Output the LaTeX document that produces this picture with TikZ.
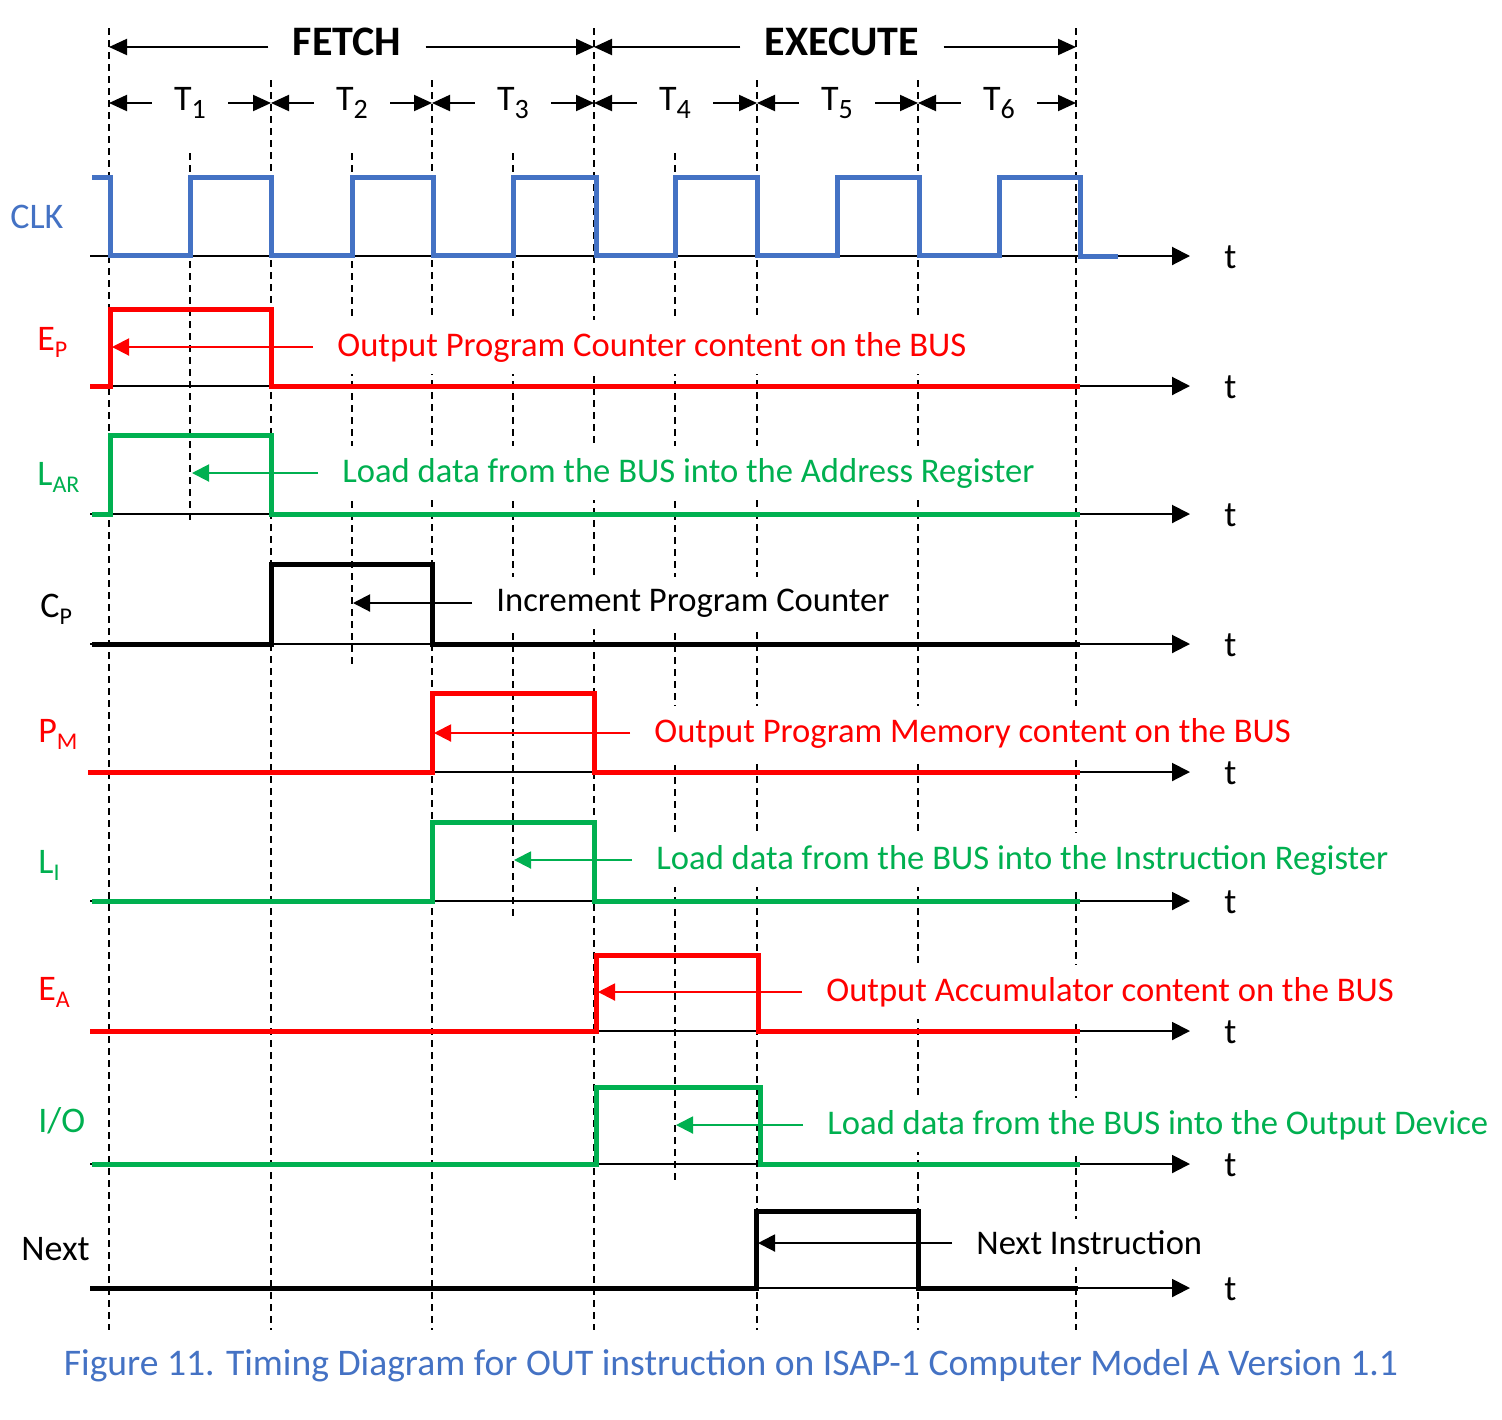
\documentclass[tikz,border=0pt]{standalone}
\usepackage{fontspec}
\setmainfont{Carlito}
\usetikzlibrary{arrows.meta,positioning}

\definecolor{clkblue}{HTML}{4472C4}
\definecolor{sigred}{HTML}{FF0000}
\definecolor{siggreen}{HTML}{00B050}

\newcommand{\lsub}[1]{\raisebox{-3.5pt}{\fontsize{12}{12}\selectfont #1}}
\newcommand{\tsub}[1]{\raisebox{-4pt}{\fontsize{14}{14}\selectfont #1}}

\begin{document}
\begin{tikzpicture}[x=0.5pt, y=-0.5pt,
    sig/.style={line width=2.5pt, line join=miter},
    axis/.style={line width=1pt, -{Triangle[length=9pt,width=9pt]}},
    grid/.style={line width=1pt, dash pattern=on 3.5pt off 2.5pt},
    note/.style={line width=1pt, -{Triangle[length=8.5pt,width=8.5pt]}},
    span/.style={line width=1pt, -{Triangle[length=9pt,width=8pt]}},
    lbl/.style={font=\fontsize{18}{22}\selectfont, inner sep=0pt},
    ann/.style={font=\fontsize{17.3}{21}\selectfont, anchor=west, fill=white, inner xsep=12pt, inner ysep=6pt},
    tlbl/.style={lbl, inner xsep=11pt},
    phase/.style={font=\fontsize{21}{25}\selectfont\bfseries, inner sep=0pt, inner xsep=12pt}]
    \useasboundingbox (0,0) rectangle (1502,1419);

    % Period boundaries
    \foreach \x [count=\i from 0] in {109,271,432,594,757,918,1076}
        \coordinate (b\i) at (\x,103);
    \coordinate (p0) at (109,47);
    \coordinate (p1) at (594,47);
    \coordinate (p2) at (1076,47);

    % Dashed guides
    \foreach \x in {109,594,1076} \draw[grid] (\x,28) -- (\x,1330);
    \foreach \x in {271,432,757,918} \draw[grid] (\x,80) -- (\x,1330);
    \foreach \x/\y in {190/522,352/665,513/918,675/1180} \draw[grid] (\x,153) -- (\x,\y);

    % FETCH / EXECUTE
    \node[phase] (fetch) at (347,42) {FETCH};
    \node[phase] (exec) at (842,42) {EXECUTE};
    \draw[span] (p0 -| fetch.west) -- (p0);
    \draw[span] (p1 -| fetch.east) -- (p1);
    \draw[span] (p1 -| exec.west) -- (p1);
    \draw[span] (p2 -| exec.east) -- (p2);

    % T states
    \foreach \x [count=\i] in {190,352,513,675,837,999} {
        \pgfmathtruncatemacro\j{\i-1}
        \node[tlbl] (T\i) at (\x,103) {T\tsub{\i}};
        \draw[span] (b\j -| T\i.west) -- (b\j);
        \draw[span] (b\i -| T\i.east) -- (b\i);
    }

    % Time axes
    \foreach \y [count=\i] in {256,386,514,644,772,901,1031,1164,1288} {
        \draw[axis] (90,\y) -- (1190,\y);
        \node[lbl, anchor=base west] (tax\i) at (1224,\y+12) {t};
    }

    % Signal names
    \node[lbl, clkblue, anchor=base west] (clk) at (10,228) {CLK};
    \node[lbl, sigred, anchor=base west] (ep) at (37,350) {E\lsub{P}};
    \node[lbl, siggreen, anchor=base west] (lar) at (37,485) {L\lsub{AR}};
    \node[lbl, anchor=base west] (cp) at (40,617) {C\lsub{P}};
    \node[lbl, sigred, anchor=base west] (pm) at (38,742) {P\lsub{M}};
    \node[lbl, siggreen, anchor=base west] (li) at (38,873) {L\lsub{I}};
    \node[lbl, sigred, anchor=base west] (ea) at (38,1000) {E\lsub{A}};
    \node[lbl, siggreen, anchor=base west] (io) at (38,1132) {I/O};
    \node[lbl, anchor=base west] (next) at (21,1260) {Next};

    % Waveforms
    \draw[sig, clkblue] (92,177) -| (110,255) -| (190,177) -| (271,255) -| (352,177)
        -| (433,255) -| (513,177) -| (596,255) -| (675,177) -| (757,255) -| (837,177)
        -| (919,255) -| (999,177) -| (1080,256) -- (1118,256);
    \draw[sig, sigred] (90,386) -| (110,309) -| (271,386) -- (1080,386);
    \draw[sig, siggreen] (92,514) -| (110,435) -| (271,514) -- (1080,514);
    \draw[sig, black] (92,644) -| (271,564) -| (432,644) -- (1080,644);
    \draw[sig, sigred] (88,772) -| (432,693) -| (594,772) -- (1080,772);
    \draw[sig, siggreen] (92,901) -| (432,822) -| (594,901) -- (1080,901);
    \draw[sig, sigred] (90,1031) -| (596,955) -| (758,1031) -- (1080,1031);
    \draw[sig, siggreen] (92,1164) -| (596,1087) -| (760,1164) -- (1080,1164);
    \draw[sig, black] (90,1288) -| (756,1211) -| (918,1288) -- (1078,1288);

    % Notes
    \coordinate (eptip) at (112,347);
    \coordinate (lartip) at (192,473);
    \coordinate (cptip) at (353,603);
    \coordinate (pmtip) at (434,733);
    \coordinate (litip) at (514,860);
    \coordinate (eatip) at (598,992);
    \coordinate (iotip) at (676,1125);
    \coordinate (nexttip) at (758,1243);
    \node[ann, text=sigred] (epnote) at (313,347) {Output Program Counter content on the BUS};
    \node[ann, text=siggreen] (larnote) at (318,473) {Load data from the BUS into the Address Register};
    \node[ann] (cpnote) at (472,603) {Increment Program Counter};
    \node[ann, text=sigred] (pmnote) at (630,733) {Output Program Memory content on the BUS};
    \node[ann, text=siggreen] (linote) at (632,860) {Load data from the BUS into the Instruction Register};
    \node[ann, text=sigred] (eanote) at (802,992) {Output Accumulator content on the BUS};
    \node[ann, text=siggreen] (ionote) at (803,1125) {Load data from the BUS into the Output Device};
    \node[ann] (nextnote) at (952,1243) {Next Instruction};
    \draw[note, sigred] (epnote.west) -- (eptip);
    \draw[note, siggreen] (larnote.west) -- (lartip);
    \draw[note] (cpnote.west) -- (cptip);
    \draw[note, sigred] (pmnote.west) -- (pmtip);
    \draw[note, siggreen] (linote.west) -- (litip);
    \draw[note, sigred] (eanote.west) -- (eatip);
    \draw[note, siggreen] (ionote.west) -- (iotip);
    \draw[note] (nextnote.west) -- (nexttip);

    % Caption
    \node[lbl, font=\fontsize{18.8}{23}\selectfont, clkblue, anchor=base] (caption) at (731,1375)
        {Figure 11. Timing Diagram for OUT instruction on ISAP-1 Computer Model A Version 1.1};
\end{tikzpicture}
\end{document}
